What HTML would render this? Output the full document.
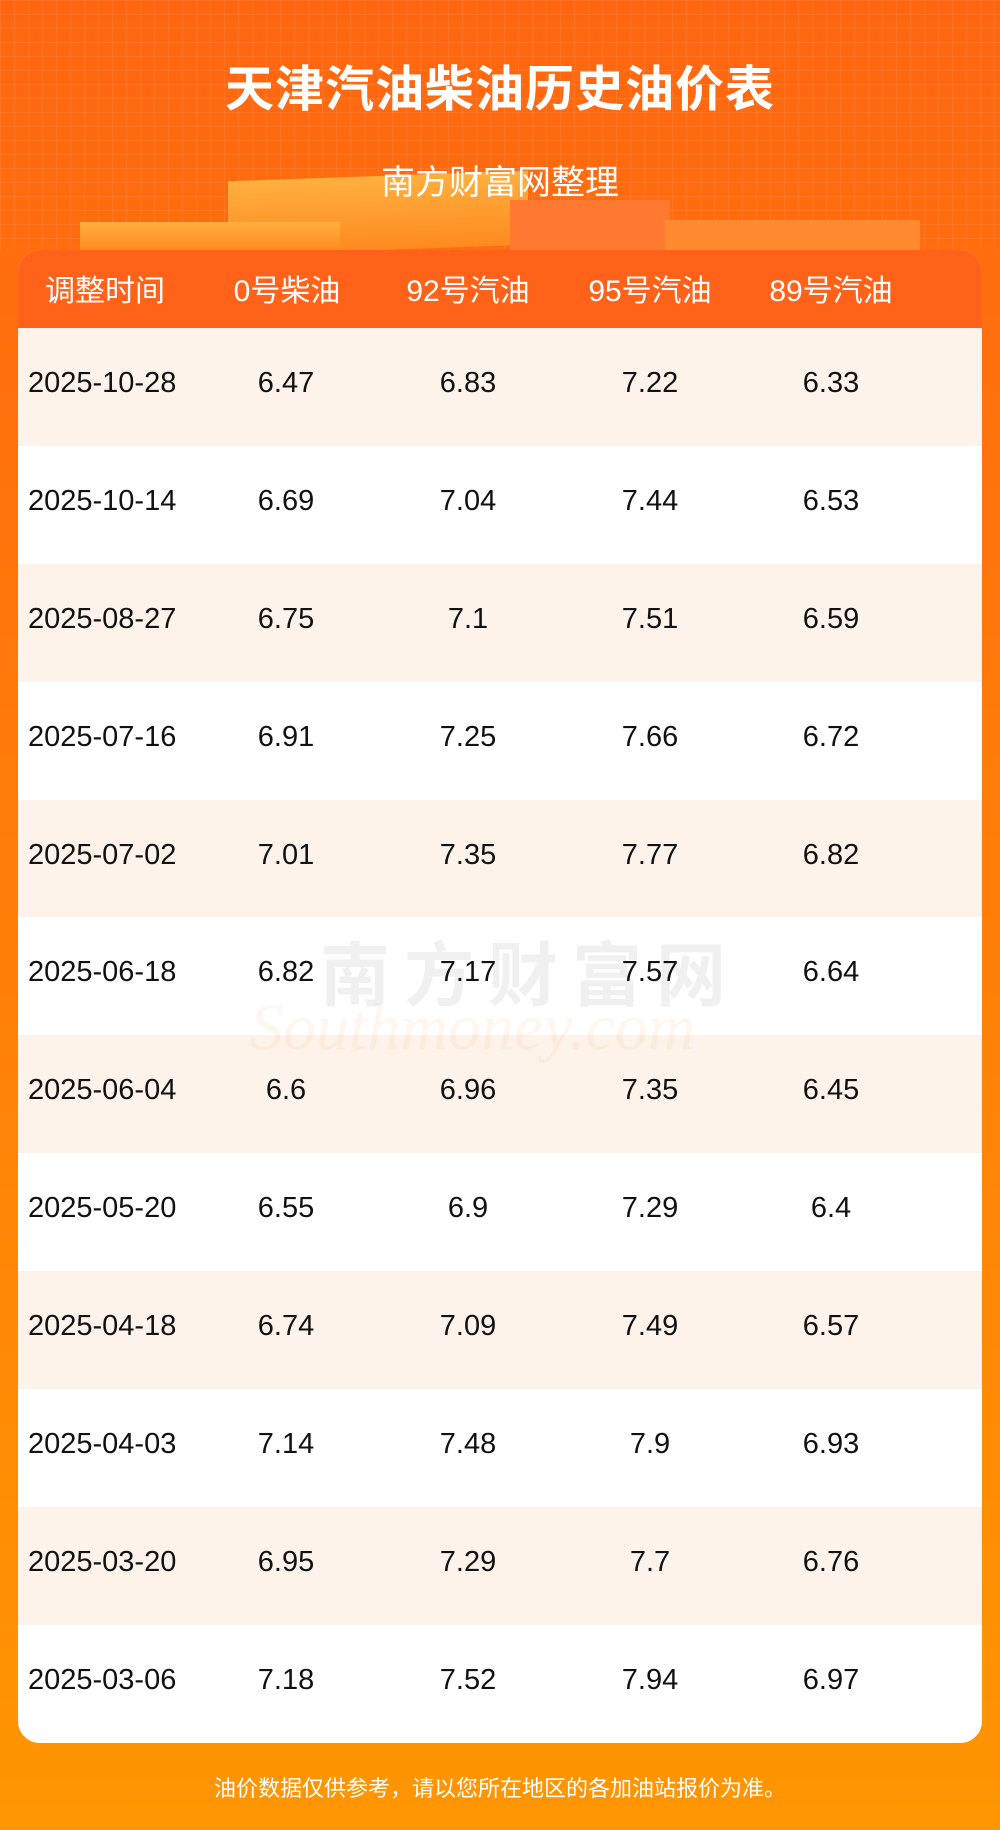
<!DOCTYPE html>
<html><head><meta charset="utf-8"><style>
*{margin:0;padding:0;box-sizing:border-box}
body{width:1000px;height:1830px;overflow:hidden;font-family:"Liberation Sans","Noto Sans CJK SC",sans-serif;background:linear-gradient(180deg,#ff6610 0%,#ff7a0a 40%,#ff8a05 75%,#ff9602 100%);position:relative}
.grid{position:absolute;left:0;top:0;width:1000px;height:250px;background-image:linear-gradient(rgba(255,255,255,.07) 1px,transparent 1px),linear-gradient(90deg,rgba(255,255,255,.07) 1px,transparent 1px);background-size:14px 14px}
.blk{position:absolute;background:linear-gradient(180deg,#ffb040,#ff8a20)}
.title{position:absolute;top:50px;width:1000px;text-align:center;color:#fff;font-size:49px;font-weight:bold;letter-spacing:1px}
.sub{position:absolute;top:155px;width:1000px;text-align:center;color:#fff;font-size:34px}
.card{position:absolute;left:18px;top:250px;width:964px;height:1493px;border-radius:22px;overflow:hidden;background:#fff}
.hd{height:78px;background:#ff6218;color:#fff;font-size:30px;position:relative}
.row{height:117.9px;position:relative;font-size:29px;color:#111}
.c{position:absolute;top:50%;transform:translate(-50%,-60%);white-space:nowrap}
.hd .c{transform:translate(-50%,-52%)}
.d{position:absolute;left:10px;top:50%;transform:translateY(-60%)}
.foot{position:absolute;top:1771px;width:1000px;text-align:center;color:#fff;font-size:22px}
.wm{position:absolute;left:320px;top:920px;font-size:70px;color:rgba(0,0,0,.06);font-weight:bold;letter-spacing:14px}
.wm2{position:absolute;left:250px;top:990px;font-size:66px;color:rgba(255,140,40,.08);font-style:italic;font-family:"Liberation Serif",serif}
</style></head><body>
<div class="grid"></div>
<div class="blk" style="left:228px;top:176px;width:300px;height:74px;transform:skewY(-2deg)"></div>
<div class="blk" style="left:510px;top:200px;width:160px;height:50px;background:#ff7a30"></div>
<div class="blk" style="left:80px;top:222px;width:260px;height:28px"></div>
<div class="blk" style="left:665px;top:220px;width:255px;height:30px;background:#ff8a30"></div>
<div class="title">天津汽油柴油历史油价表</div>
<div class="sub">南方财富网整理</div>
<div class="card">
<div class="hd"><span class="c" style="left:87px">调整时间</span><span class="c" style="left:269px">0号柴油</span><span class="c" style="left:450px">92号汽油</span><span class="c" style="left:632px">95号汽油</span><span class="c" style="left:813px">89号汽油</span></div>
<div>
<div class="row" style="background:#fdf3ea"><span class="d">2025-10-28</span><span class="c" style="left:268px">6.47</span><span class="c" style="left:450px">6.83</span><span class="c" style="left:632px">7.22</span><span class="c" style="left:813px">6.33</span></div>
<div class="row" style="background:#fff"><span class="d">2025-10-14</span><span class="c" style="left:268px">6.69</span><span class="c" style="left:450px">7.04</span><span class="c" style="left:632px">7.44</span><span class="c" style="left:813px">6.53</span></div>
<div class="row" style="background:#fdf3ea"><span class="d">2025-08-27</span><span class="c" style="left:268px">6.75</span><span class="c" style="left:450px">7.1</span><span class="c" style="left:632px">7.51</span><span class="c" style="left:813px">6.59</span></div>
<div class="row" style="background:#fff"><span class="d">2025-07-16</span><span class="c" style="left:268px">6.91</span><span class="c" style="left:450px">7.25</span><span class="c" style="left:632px">7.66</span><span class="c" style="left:813px">6.72</span></div>
<div class="row" style="background:#fdf3ea"><span class="d">2025-07-02</span><span class="c" style="left:268px">7.01</span><span class="c" style="left:450px">7.35</span><span class="c" style="left:632px">7.77</span><span class="c" style="left:813px">6.82</span></div>
<div class="row" style="background:#fff"><span class="d">2025-06-18</span><span class="c" style="left:268px">6.82</span><span class="c" style="left:450px">7.17</span><span class="c" style="left:632px">7.57</span><span class="c" style="left:813px">6.64</span></div>
<div class="row" style="background:#fdf3ea"><span class="d">2025-06-04</span><span class="c" style="left:268px">6.6</span><span class="c" style="left:450px">6.96</span><span class="c" style="left:632px">7.35</span><span class="c" style="left:813px">6.45</span></div>
<div class="row" style="background:#fff"><span class="d">2025-05-20</span><span class="c" style="left:268px">6.55</span><span class="c" style="left:450px">6.9</span><span class="c" style="left:632px">7.29</span><span class="c" style="left:813px">6.4</span></div>
<div class="row" style="background:#fdf3ea"><span class="d">2025-04-18</span><span class="c" style="left:268px">6.74</span><span class="c" style="left:450px">7.09</span><span class="c" style="left:632px">7.49</span><span class="c" style="left:813px">6.57</span></div>
<div class="row" style="background:#fff"><span class="d">2025-04-03</span><span class="c" style="left:268px">7.14</span><span class="c" style="left:450px">7.48</span><span class="c" style="left:632px">7.9</span><span class="c" style="left:813px">6.93</span></div>
<div class="row" style="background:#fdf3ea"><span class="d">2025-03-20</span><span class="c" style="left:268px">6.95</span><span class="c" style="left:450px">7.29</span><span class="c" style="left:632px">7.7</span><span class="c" style="left:813px">6.76</span></div>
<div class="row" style="background:#fff"><span class="d">2025-03-06</span><span class="c" style="left:268px">7.18</span><span class="c" style="left:450px">7.52</span><span class="c" style="left:632px">7.94</span><span class="c" style="left:813px">6.97</span></div>
</div>
</div>
<div class="wm">南方财富网</div>
<div class="wm2">Southmoney.com</div>
<div class="foot">油价数据仅供参考，请以您所在地区的各加油站报价为准。</div>
</body></html>
